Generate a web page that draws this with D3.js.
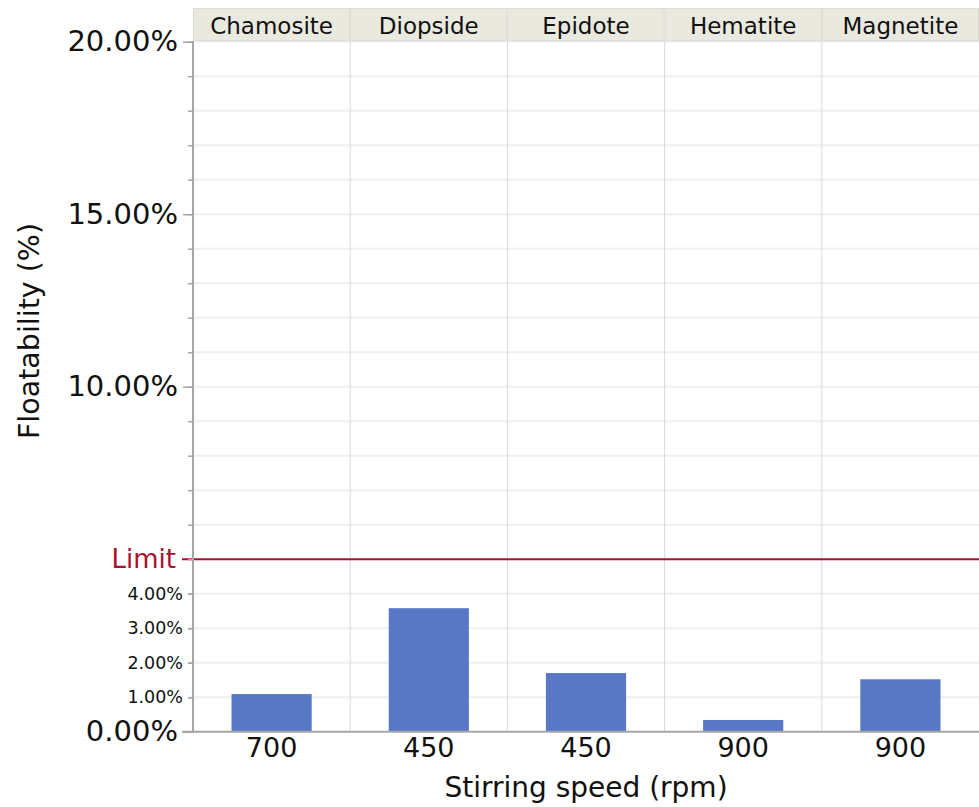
<!DOCTYPE html>
<html>
<head>
<meta charset="utf-8">
<script src="https://cdn.jsdelivr.net/npm/d3@7"></script>
<style>
  html, body { margin: 0; padding: 0; background: #fff; }
  svg { display: block; font-family: "DejaVu Sans", Verdana, sans-serif; }
</style>
</head>
<body>
<svg id="chart" width="979" height="807"></svg>
<script>
// Minerals (facet panels) and the stirring speed used for each
const minerals = ["Chamosite", "Diopside", "Epidote", "Hematite", "Magnetite"];
const speeds = ["700", "450", "450", "900", "900"];
// Floatability in percent
const floatability = [1.09, 3.58, 1.70, 0.34, 1.52];
// Reference limit line (percent)
const limitValue = 5;
const limitLabel = "Limit";
// Y axis labels
const majorTicks = [0, 10, 15, 20];
const smallTicks = [1, 2, 3, 4];
const gridTicks = d3.range(1, 21).filter(v => v !== limitValue);

const svg = d3.select("#chart");
const margin = { left: 193, right: 0, top: 42, bottom: 75 };
const W = 979, H = 807;

const y = d3.scaleLinear().domain([0, 20]).range([731.7, 41.7]);
const panel = d3.scaleBand().domain(minerals).range([margin.left, W]).padding(0);
const inner = d3.scaleBand().domain([0]).range([0, panel.bandwidth()]).paddingInner(0.49).paddingOuter(0.245);

const data = minerals.map((m, i) => ({ mineral: m, speed: speeds[i], value: floatability[i] }));

// Horizontal gridlines every 1%
svg.append("g").selectAll("line").data(gridTicks).join("line")
  .attr("x1", margin.left).attr("x2", W)
  .attr("y1", d => y(d)).attr("y2", d => y(d))
  .attr("stroke", "#efefef").attr("stroke-width", 2);

// Panel separators
svg.append("g").selectAll("line").data(minerals.slice(1)).join("line")
  .attr("x1", d => panel(d)).attr("x2", d => panel(d))
  .attr("y1", 41).attr("y2", y(0))
  .attr("stroke", "#dadada").attr("stroke-width", 1);

// Bars
svg.append("g").selectAll("rect").data(data).join("rect")
  .attr("x", d => panel(d.mineral) + inner(0))
  .attr("width", inner.bandwidth())
  .attr("y", d => y(d.value))
  .attr("height", d => y(0) - y(d.value))
  .attr("fill", "#5877c4");

// Limit line
svg.append("line")
  .attr("x1", 182).attr("x2", W)
  .attr("y1", y(limitValue)).attr("y2", y(limitValue))
  .attr("stroke", "#ab0f30").attr("stroke-width", 2);
svg.append("text")
  .attr("x", 176).attr("y", y(limitValue))
  .attr("text-anchor", "end").attr("dominant-baseline", "central")
  .attr("font-size", 26).attr("fill", "#ab0f30")
  .text(limitLabel);

// Y axis: minor ticks every 1%, major ticks with large labels
const yAxisMinor = d3.axisLeft(y).tickValues(d3.range(0, 21)).tickSize(5).tickFormat("");
svg.append("g").attr("transform", `translate(${margin.left},0)`).call(yAxisMinor)
  .call(g => g.select(".domain").remove())
  .call(g => g.selectAll(".tick line").attr("stroke", "#a6a6a6").attr("stroke-width", 1.5));

const yAxisMajor = d3.axisLeft(y).tickValues(majorTicks).tickSize(10).tickPadding(5)
  .tickFormat(d => d3.format(".2f")(d) + "%");
svg.append("g").attr("transform", `translate(${margin.left},0)`).call(yAxisMajor)
  .call(g => g.select(".domain").remove())
  .call(g => g.selectAll(".tick line").attr("stroke", "#a6a6a6").attr("stroke-width", 1.5))
  .call(g => g.selectAll(".tick text").attr("font-size", 29).attr("fill", "#111")
    .attr("font-family", "DejaVu Sans, Verdana, sans-serif"));

const yAxisSmall = d3.axisLeft(y).tickValues(smallTicks).tickSize(5).tickPadding(5)
  .tickFormat(d => d3.format(".2f")(d) + "%");
svg.append("g").attr("transform", `translate(${margin.left},0)`).call(yAxisSmall)
  .call(g => g.select(".domain").remove())
  .call(g => g.selectAll(".tick text").attr("font-size", 17.5).attr("fill", "#111")
    .attr("font-family", "DejaVu Sans, Verdana, sans-serif"))
  .call(g => g.selectAll(".tick line").attr("stroke", "#a6a6a6").attr("stroke-width", 1.5));

// Axis lines
svg.append("line").attr("x1", margin.left).attr("x2", margin.left)
  .attr("y1", 41).attr("y2", y(0) + 1)
  .attr("stroke", "#a6a6a6").attr("stroke-width", 2);
svg.append("line").attr("x1", 182).attr("x2", W)
  .attr("y1", y(0)).attr("y2", y(0))
  .attr("stroke", "#a6a6a6").attr("stroke-width", 2);

// X tick labels (stirring speed per panel)
svg.append("g").selectAll("text").data(data).join("text")
  .attr("x", d => panel(d.mineral) + panel.bandwidth() / 2)
  .attr("y", 757)
  .attr("text-anchor", "middle")
  .attr("font-size", 27).attr("fill", "#111")
  .text(d => d.speed);

// Facet header strips
const strip = svg.append("g");
strip.selectAll("rect").data(minerals).join("rect")
  .attr("x", d => panel(d) + 0.5).attr("y", 8.5)
  .attr("width", panel.bandwidth() - 1).attr("height", 32)
  .attr("fill", "#e9e9df").attr("stroke", "#dcdcd2").attr("stroke-width", 1);
strip.selectAll("text").data(minerals).join("text")
  .attr("x", d => panel(d) + panel.bandwidth() / 2)
  .attr("y", 34)
  .attr("text-anchor", "middle")
  .attr("font-size", 23).attr("fill", "#111")
  .text(d => d);

// Axis titles
svg.append("text")
  .attr("x", (margin.left + W) / 2).attr("y", 797)
  .attr("text-anchor", "middle").attr("font-size", 28).attr("fill", "#111")
  .text("Stirring speed (rpm)");
svg.append("text")
  .attr("transform", "translate(39,331) rotate(-90)")
  .attr("text-anchor", "middle").attr("font-size", 28.5).attr("fill", "#111")
  .text("Floatability (%)");
</script>
</body>
</html>
